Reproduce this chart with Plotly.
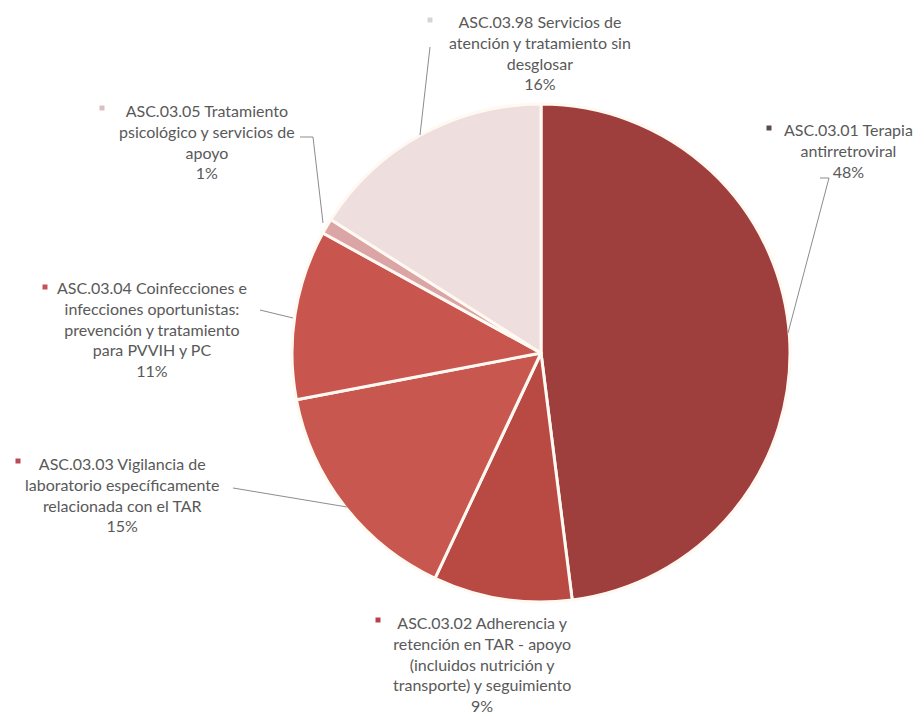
import plotly.graph_objects as go

# Category spending shares (percent)
labels = [
    "ASC.03.01 Terapia<br>antirretroviral",
    "ASC.03.02 Adherencia y<br>retención en TAR - apoyo<br>(incluidos nutrición y<br>transporte) y seguimiento",
    "ASC.03.03 Vigilancia de<br>laboratorio específicamente<br>relacionada con el TAR",
    "ASC.03.04 Coinfecciones e<br>infecciones oportunistas:<br>prevención y tratamiento<br>para PVVIH y PC",
    "ASC.03.05 Tratamiento<br>psicológico y servicios de<br>apoyo",
    "ASC.03.98 Servicios de<br>atención y tratamiento sin<br>desglosar",
]
values = [48, 9, 15, 11, 1, 16]
colors = ["#9E3F3E", "#B84943", "#C8584F", "#C9554F", "#DBA5A5", "#EEDEDE"]
key_colors = ["#5A4A4A", "#B8404A", "#B84A5A", "#C8505A", "#D8C0C0", "#D8D4D4"]

W, H = 921, 715
CX, CY, R = 541, 353, 249


def px(x):
    return x / W


def py(y):
    return 1 - y / H


fig = go.Figure(
    go.Pie(
        labels=labels,
        values=values,
        sort=False,
        direction="clockwise",
        rotation=0,
        textinfo="none",
        hoverinfo="label+percent",
        marker=dict(colors=colors, line=dict(color="#FFF9F2", width=3)),
        domain=dict(x=[px(CX - R), px(CX + R)], y=[py(CY + R), py(CY - R)]),
        showlegend=False,
    )
)

# Label block centres (pixels) and legend-key square positions
label_pos = [(848, 151), (482, 664), (122, 494), (152, 329), (207, 141), (540, 52)]
square_pos = [(769, 128), (378, 620), (18, 461), (45, 287), (102, 108), (430, 20)]
font = dict(family="Lato, 'Open Sans', sans-serif", size=16, color="#595959")

annotations = []
shapes = []
for lab, v, c, (lx, ly), (sx, sy) in zip(labels, values, key_colors, label_pos, square_pos):
    annotations.append(
        dict(
            x=px(lx), y=py(ly), xref="paper", yref="paper",
            text=f"{lab}<br>{v}%", showarrow=False, align="center",
            xanchor="center", yanchor="middle", font=font,
        )
    )
    shapes.append(
        dict(
            type="rect", xref="paper", yref="paper",
            x0=px(sx - 2.5), x1=px(sx + 2.5), y0=py(sy + 2.5), y1=py(sy - 2.5),
            fillcolor=c, line=dict(width=0),
        )
    )

# Leader lines from labels to the pie edge
leaders = [
    [(820, 178), (829, 178), (788, 333)],
    [(233, 488), (347, 507)],
    [(260, 310), (293, 318)],
    [(300, 137), (313, 137), (323, 223)],
    [(430, 47), (420, 135)],
]
for pts in leaders:
    path = "M " + " L ".join(f"{px(x)},{py(y)}" for x, y in pts)
    shapes.append(
        dict(type="path", xref="paper", yref="paper", path=path,
             line=dict(color="#8C8C8C", width=1))
    )

fig.update_layout(
    width=W, height=H,
    margin=dict(l=0, r=0, t=0, b=0),
    paper_bgcolor="white",
    plot_bgcolor="white",
    annotations=annotations,
    shapes=shapes,
)

fig.write_html("out.html")
